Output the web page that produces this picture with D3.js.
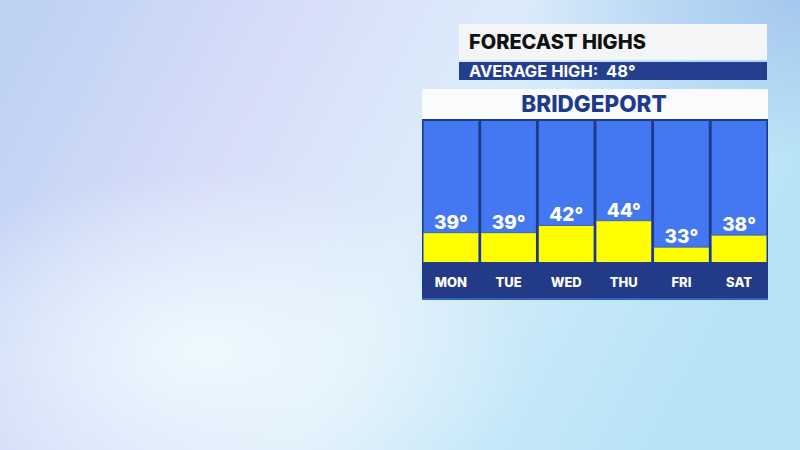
<!DOCTYPE html>
<html>
<head>
<meta charset="utf-8">
<script src="https://cdn.jsdelivr.net/npm/d3@7"></script>
<style>
  html, body { margin: 0; padding: 0; overflow: hidden; }
  svg { display: block; }
  text { font-family: Inter, "Open Sans", sans-serif; white-space: pre; }
</style>
</head>
<body>
<div id="chart"></div>
<script>
const days = ["MON", "TUE", "WED", "THU", "FRI", "SAT"];
const highs = [39, 39, 42, 44, 33, 38];
const title = "FORECAST HIGHS";
const subtitle = "AVERAGE HIGH:  48°";
const city = "BRIDGEPORT";

const width = 800, height = 450;

const svg = d3.select("#chart")
  .append("svg")
  .attr("width", width)
  .attr("height", height);

const defs = svg.append("defs");

// soft sky backdrop
const bg = defs.append("linearGradient")
  .attr("id", "bg")
  .attr("x1", "0").attr("y1", "0.2")
  .attr("x2", "1").attr("y2", "0.5");
bg.append("stop").attr("offset", "0%").attr("stop-color", "#c0d2f4");
bg.append("stop").attr("offset", "30%").attr("stop-color", "#d8def9");
bg.append("stop").attr("offset", "55%").attr("stop-color", "#dcecfa");
bg.append("stop").attr("offset", "80%").attr("stop-color", "#c4e8f8");
bg.append("stop").attr("offset", "100%").attr("stop-color", "#b6e2f6");

const glow = defs.append("radialGradient")
  .attr("id", "glow")
  .attr("cx", "0.26").attr("cy", "0.78").attr("r", "0.4");
glow.append("stop").attr("offset", "0%").attr("stop-color", "#f0fcff").attr("stop-opacity", 0.9);
glow.append("stop").attr("offset", "100%").attr("stop-color", "#f0fcff").attr("stop-opacity", 0);

const corner = defs.append("radialGradient")
  .attr("id", "corner")
  .attr("cx", "1").attr("cy", "0").attr("r", "0.35");
corner.append("stop").attr("offset", "0%").attr("stop-color", "#9ebfec").attr("stop-opacity", 0.8);
corner.append("stop").attr("offset", "100%").attr("stop-color", "#9ebfec").attr("stop-opacity", 0);

svg.append("rect").attr("width", width).attr("height", height).attr("fill", "url(#bg)");
svg.append("rect").attr("width", width).attr("height", height).attr("fill", "url(#glow)");
svg.append("rect").attr("width", width).attr("height", height).attr("fill", "url(#corner)");

// title block
svg.append("rect")
  .attr("x", 459).attr("y", 24).attr("width", 308).attr("height", 36)
  .attr("fill", "#f4f5f7");
svg.append("text")
  .attr("x", 469).attr("y", 49)
  .attr("font-size", 20).attr("font-weight", 800)
  .attr("fill", "#111")
  .text(title);

svg.append("rect")
  .attr("x", 459).attr("y", 62).attr("width", 308).attr("height", 18)
  .attr("fill", "#233f8e");
svg.append("text")
  .attr("x", 469).attr("y", 77)
  .attr("font-size", 16.5).attr("font-weight", 700)
  .attr("fill", "#fff")
  .text(subtitle);

svg.append("rect")
  .attr("x", 422).attr("y", 89).attr("width", 346).attr("height", 30)
  .attr("fill", "#fafbfd");
svg.append("text")
  .attr("x", 594).attr("y", 112)
  .attr("text-anchor", "middle")
  .attr("font-size", 22.5).attr("font-weight", 800)
  .attr("fill", "#1d3a8c")
  .text(city);

// chart panel
const panel = { left: 422, right: 768, top: 119, bottom: 300 };
const labelTop = 262;

svg.append("rect")
  .attr("x", panel.left).attr("y", panel.top)
  .attr("width", panel.right - panel.left).attr("height", panel.bottom - panel.top)
  .attr("fill", "#1e3a8a");
svg.append("line")
  .attr("x1", panel.left).attr("x2", panel.right)
  .attr("y1", panel.bottom - 1).attr("y2", panel.bottom - 1)
  .attr("stroke", "#3f6fd8").attr("stroke-width", 1.5);

const x = d3.scaleBand()
  .domain(days)
  .range([panel.left + 1, panel.right - 1])
  .paddingInner(0.05)
  .paddingOuter(0.01);

const y = d3.scaleLinear()
  .domain([26.8, 85.5])
  .range([labelTop, 121]);

const data = days.map((d, i) => ({ day: d, high: highs[i] }));

const cols = svg.selectAll("g.col")
  .data(data)
  .enter()
  .append("g")
  .attr("class", "col");

cols.append("rect")
  .attr("x", d => x(d.day))
  .attr("y", y.range()[1])
  .attr("width", x.bandwidth())
  .attr("height", labelTop - y.range()[1])
  .attr("fill", "#4477f2");

cols.append("rect")
  .attr("x", d => x(d.day))
  .attr("y", d => y(d.high))
  .attr("width", x.bandwidth())
  .attr("height", d => labelTop - y(d.high))
  .attr("fill", "#ffff00");

cols.append("line")
  .attr("x1", d => x(d.day))
  .attr("x2", d => x(d.day) + x.bandwidth())
  .attr("y1", d => y(d.high))
  .attr("y2", d => y(d.high))
  .attr("stroke", "#3a5fc0").attr("stroke-width", 1);

cols.append("rect")
  .attr("x", d => x(d.day))
  .attr("y", labelTop)
  .attr("width", x.bandwidth())
  .attr("height", 35)
  .attr("fill", "#233b87");

cols.append("text")
  .attr("x", d => x(d.day) + x.bandwidth() / 2)
  .attr("y", d => y(d.high) - 4)
  .attr("text-anchor", "middle")
  .attr("font-size", 19).attr("font-weight", 800)
  .attr("fill", "#fff")
  .text(d => d.high + "°");

cols.append("text")
  .attr("x", d => x(d.day) + x.bandwidth() / 2)
  .attr("y", 287)
  .attr("text-anchor", "middle")
  .attr("font-size", 13).attr("font-weight", 800)
  .attr("fill", "#fff")
  .text(d => d.day);
</script>
</body>
</html>
